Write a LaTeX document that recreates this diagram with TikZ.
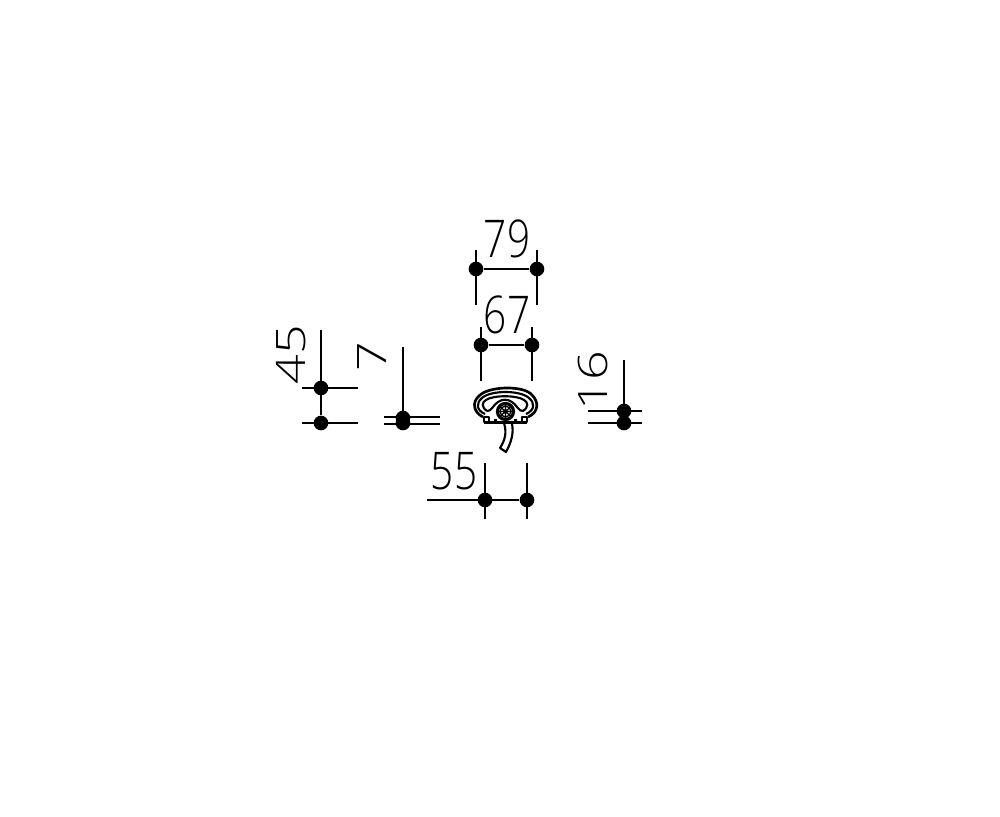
\documentclass[tikz,border=0pt]{standalone}
\usepackage{fontspec}
\newfontfamily\dimfont{Open Sans Light}
\tikzset{
  x=0.75pt,y=-0.75pt,
  dimline/.style={line width=1.35pt,black},
  dimdot/.style={circle,fill=black,inner sep=0pt,minimum size=11pt},
  dimtext/.style={inner sep=0pt,font=\dimfont\fontsize{39}{39}\selectfont,xscale=0.78},
  part/.style={line width=1.6pt,black,line join=round}
}
\begin{document}
\begin{tikzpicture}
\useasboundingbox (0,0) rectangle (1000,817);
% end points
\foreach \n/\x/\y in {
 a1/476/250,a2/476/305,b1/537/250,b2/537/305,
 c1/481/327,c2/481/381,d1/532/327,d2/532/381,
 e1/485/463,e2/485/519,f1/527/463,f2/527/519,g1/427/500,
 h1/321/330,i1/302/388,i2/358/388,j1/302/423,j2/358/423,
 k1/403/347,l1/384/417,l2/440/417,m1/384/424,m2/440/424,
 n1/624/360,o1/588/411,o2/642/411,p1/588/423,p2/642/423}
 {\coordinate (\n) at (\x,\y);}
% dots
\node[dimdot] (A) at (476,269) {};
\node[dimdot] (B) at (537,269) {};
\node[dimdot] (C) at (481,345) {};
\node[dimdot] (D) at (532,345) {};
\node[dimdot] (E) at (485,500) {};
\node[dimdot] (F) at (527,500) {};
\node[dimdot] (H) at (321,388) {};
\node[dimdot] (I) at (321,423) {};
\node[dimdot] (K) at (403,418) {};
\node[dimdot] (L) at (403,423) {};
\node[dimdot] (N) at (624,411) {};
\node[dimdot] (O) at (624,423) {};
% connectors
\draw[dimline] (a1)--(a2) (b1)--(b2) (A)--(B);
\draw[dimline] (c1)--(c2) (d1)--(d2) (C)--(D);
\draw[dimline] (e1)--(e2) (f1)--(f2) (g1)--(F);
\draw[dimline] (h1)--(I) (i1)--(i2) (j1)--(j2);
\draw[dimline] (k1)--(L) (l1)--(l2) (m1)--(m2);
\draw[dimline] (n1)--(O) (o1)--(o2) (p1)--(p2);
% labels
\node[dimtext] (t79) at (507,239) {79};
\node[dimtext] (t67) at (507,315) {67};
\node[dimtext] (t55) at (454,471) {55};
\node[dimtext,rotate=90] (t45) at (291,355) {45};
\node[dimtext,rotate=90] (t7) at (372,357) {7};
\node[dimtext,rotate=90] (t16) at (593,381) {16};
% fixture
\draw[part,line width=2pt] (483,417) .. controls (473,412) and (472,402) .. (479,396)
  .. controls (488,386) and (524,385) .. (532,395)
  .. controls (539,402) and (539,412) .. (528,417);
\draw[part] (485,414) .. controls (476,410) and (476,403) .. (482,398)
  .. controls (491,390) and (520,390) .. (529,398)
  .. controls (535,403) and (535,410) .. (526,414);
\draw[part] (487,411) .. controls (481,407) and (482,402) .. (486,400)
  .. controls (493,395) and (517,395) .. (524,400)
  .. controls (528,402) and (529,407) .. (523,411)
  .. controls (519,412) and (516,404) .. (512,402)
  .. controls (508,399) and (502,399) .. (498,402)
  .. controls (494,404) and (491,412) .. (487,411);
\draw[part,line width=2pt] (484,422.5) -- (527,422.5);
\draw[part] (484,417) rectangle (489,422) (522,417) rectangle (527,422);
\fill (494,419) rectangle (497,422) (514,419) rectangle (517,422);
\draw[part,line width=2.4pt] (505.5,411.5) circle (8);
\draw[part,line width=1pt] (505.5,411.5) circle (5.5) (498,411.5)--(513,411.5) (505.5,404)--(505.5,419) (500,406.5)--(511,416.5) (511,406.5)--(500,416.5);
\draw[part] (504,423) .. controls (507,433) and (505,440) .. (500,448)
  -- (506,452) .. controls (511,443) and (514,433) .. (512,424);
\end{tikzpicture}
\end{document}
